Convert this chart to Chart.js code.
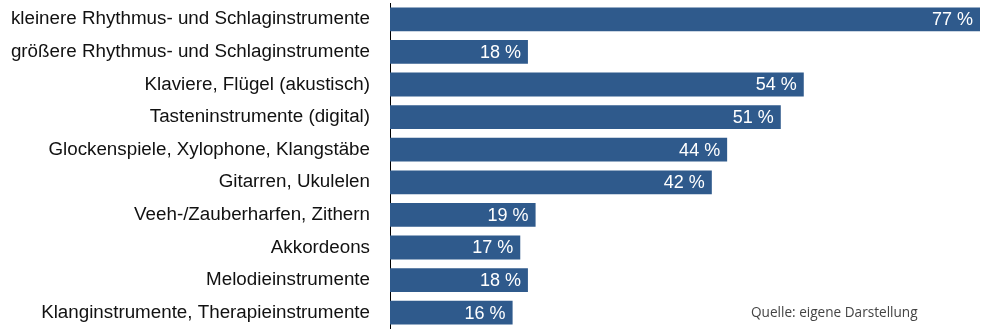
<!DOCTYPE html>
<html>
<head>
<meta charset="utf-8">
<script src="https://cdn.jsdelivr.net/npm/chart.js@4"></script>
<style>
  html, body { margin: 0; padding: 0; background: #fff; }
  #wrap { position: relative; width: 986px; height: 329px; }
  #source {
    position: absolute; left: 751px; top: 302px;
    font: 13.6px "Open Sans", sans-serif; color: #444;
  }
</style>
</head>
<body>
<div id="wrap">
  <canvas id="chart" width="986" height="329"></canvas>
  <div id="source">Quelle: eigene Darstellung</div>
</div>
<script>
// Kategorien und Werte (Prozent)
const categories = [
  'kleinere Rhythmus- und Schlaginstrumente',
  'größere Rhythmus- und Schlaginstrumente',
  'Klaviere, Flügel (akustisch)',
  'Tasteninstrumente (digital)',
  'Glockenspiele, Xylophone, Klangstäbe',
  'Gitarren, Ukulelen',
  'Veeh-/Zauberharfen, Zithern',
  'Akkordeons',
  'Melodieinstrumente',
  'Klanginstrumente, Therapieinstrumente'
];
const values = [77, 18, 54, 51, 44, 42, 19, 17, 18, 16];

// Werte in die Balken schreiben
const valueLabels = {
  id: 'valueLabels',
  afterDatasetsDraw(chart) {
    const ctx = chart.ctx;
    const meta = chart.getDatasetMeta(0);
    ctx.save();
    ctx.font = '18px "Liberation Sans", Arial, sans-serif';
    ctx.fillStyle = '#ffffff';
    ctx.textAlign = 'right';
    ctx.textBaseline = 'middle';
    meta.data.forEach((bar, i) => {
      ctx.fillText(values[i] + ' %', bar.x - 7, bar.y + 1);
    });
    ctx.restore();
  }
};

new Chart(document.getElementById('chart'), {
  type: 'bar',
  data: {
    labels: categories,
    datasets: [{
      data: values,
      backgroundColor: '#2f5a8c',
      barPercentage: 0.73,
      categoryPercentage: 1
    }]
  },
  options: {
    indexAxis: 'y',
    responsive: false,
    animation: false,
    layout: { padding: { top: 3, right: 6, bottom: 0, left: 0 } },
    plugins: {
      legend: { display: false },
      tooltip: { enabled: false }
    },
    scales: {
      x: { display: false, min: 0, max: 77 },
      y: {
        afterFit: (scale) => {
          scale.width = 390;
          scale.paddingTop = 0;
          scale.paddingBottom = 0;
        },
        grid: { display: false },
        border: { display: true, color: '#000', width: 1 },
        ticks: {
          padding: 12,
          color: '#111',
          font: { family: '"Liberation Sans", Arial, sans-serif', size: 18.8 }
        }
      }
    }
  },
  plugins: [valueLabels]
});
</script>
</body>
</html>
